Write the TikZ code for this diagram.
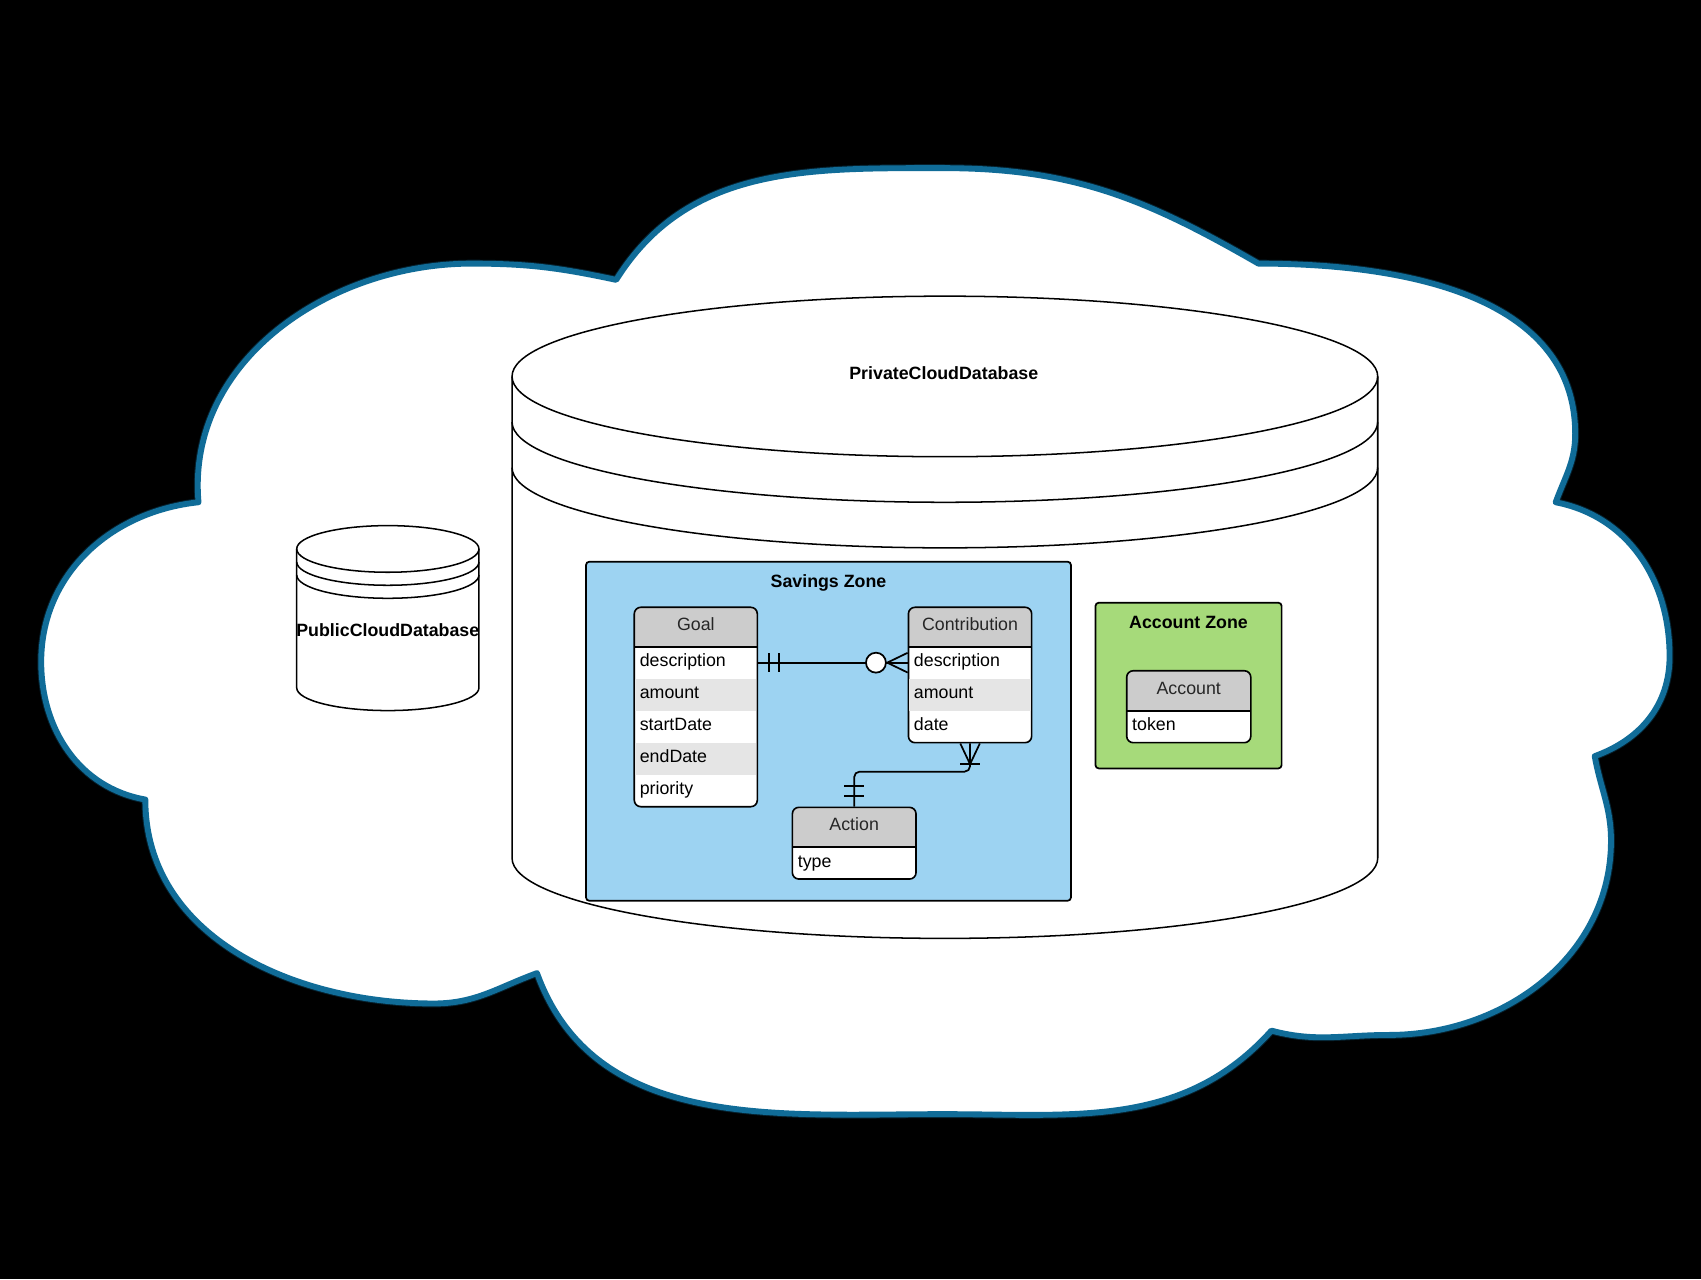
\documentclass[tikz,border=0pt]{standalone}
\usepackage{fontspec}
\setmainfont{Liberation Sans}
\usetikzlibrary{calc}
\definecolor{cloudblue}{RGB}{16,108,152}
\definecolor{savblue}{RGB}{157,211,242}
\definecolor{accgreen}{RGB}{166,218,122}
\definecolor{hdrgray}{RGB}{204,204,204}
\definecolor{rowgray}{RGB}{229,229,229}
\tikzset{
  lbl/.style={font=\fontsize{8.2pt}{9.8pt}\selectfont, inner sep=0pt},
  boldlbl/.style={font=\fontsize{8.2pt}{9.8pt}\selectfont\bfseries, inner sep=0pt, anchor=base},
  htext/.style={lbl, anchor=base, text=black!85},
  rtext/.style={lbl, anchor=base west},
  cyl/.style={line width=0.7pt, draw=black},
  zone/.style={draw=black, line width=0.8pt, rounded corners=1.5pt, inner sep=0pt},
  ent/.style={draw=black, line width=0.75pt, rounded corners=3pt, inner sep=0pt},
  hsep/.style={line width=1pt},
  conn/.style={line width=0.8pt, draw=black},
  cloudpath/.style={line join=round},
}
\newcommand\entity[7]{%
  \begin{scope}
    \clip[rounded corners=3pt] (#2,#4) rectangle (#3,#6);
    \fill[white] (#2,#4) rectangle (#3,#6);
    \fill[hdrgray] (#2,#4) rectangle (#3,#5);
  \end{scope}
  \draw[hsep] (#2,#5) -- (#3,#5);
  \node[ent, minimum width={(#3-#2)*0.5pt}, minimum height={(#6-#4)*0.5pt}] (#1) at ({(#2+#3)/2},{(#4+#6)/2}) {};
  \node[htext] (#1-title) at ({(#2+#3)/2},{(#5+#4)/2+3.6}) {#7};
}
\newcommand\erow[6]{%
  \coordinate (#1) at ({(#2+#3)/2},{(#4+#5)/2});
  \node[rtext] (#1-t) at ({#2+4.7},{(#4+#5)/2+3.8}) {#6};
}
\newcommand\cloudshape{%
  (183,463) to[out=95,in=180] (435,243)
  to[out=0,in=168] (568,258)
  to[out=58,in=180] (870,155)
  to[out=0,in=150] (1160,243)
  to[out=0,in=90] (1452,400)
  to[out=-90,in=70] (1434,463)
  to[out=-11,in=90] (1539,605)
  to[out=-90,in=20] (1470,697)
  to[out=-80,in=90] (1485,775)
  to[out=-90,in=0] (1280,954)
  to[out=180,in=-15] (1172,950)
  to[out=-132,in=0] (870,1027)
  to[out=180,in=-70] (495,897)
  to[out=-160,in=0] (400,925)
  to[out=180,in=-90] (134,737)
  to[out=170,in=-90] (38,610)
  to[out=90,in=-174] (183,463) -- cycle}
\begin{document}
\begin{tikzpicture}[x=0.5pt,y=-0.5pt]
\useasboundingbox (0,0) rectangle (1568,1179);
\fill[black] (0,0) rectangle (1568,1179);

% cloud (soft glow, then border)
\draw[cloudpath, draw=cloudblue!60!black, line width=3.6pt, opacity=0.5] \cloudshape;
\path[cloudpath, fill=white, draw=cloudblue, line width=2.7pt] \cloudshape;

% public cylinder
\filldraw[cyl, fill=white] (273.5,506) -- (273.5,634)
  arc[start angle=180,end angle=0,x radius=84,y radius=21] -- (441.5,506)
  arc[start angle=0,end angle=-180,x radius=84,y radius=21.5] -- cycle;
\draw[cyl] (273.5,506) arc[start angle=180,end angle=0,x radius=84,y radius=21.5];
\draw[cyl] (273.5,518) arc[start angle=180,end angle=0,x radius=84,y radius=21.5];
\draw[cyl] (273.5,530) arc[start angle=180,end angle=0,x radius=84,y radius=21.5];
\node[boldlbl] (public) at (357.5,586.9) {PublicCloudDatabase};

% private cylinder
\filldraw[cyl, fill=white] (472,347) -- (472,791)
  arc[start angle=180,end angle=0,x radius=399,y radius=74] -- (1270,347)
  arc[start angle=0,end angle=-180,x radius=399,y radius=74] -- cycle;
\draw[cyl] (472,347) arc[start angle=180,end angle=0,x radius=399,y radius=74];
\draw[cyl] (472,389) arc[start angle=180,end angle=0,x radius=399,y radius=74];
\draw[cyl] (472,431) arc[start angle=180,end angle=0,x radius=399,y radius=74];
\node[boldlbl] (private) at (870,349.7) {PrivateCloudDatabase};

% zones
\node[zone, fill=savblue, minimum width=447*0.5pt, minimum height=312.5*0.5pt] (savings) at (763.7,674.05) {};
\node[boldlbl] (savings-label) at (763.7,541.4) {Savings Zone};
\node[zone, fill=accgreen, minimum width=171.6*0.5pt, minimum height=152.7*0.5pt] (accountzone) at (1095.6,631.95) {};
\node[boldlbl] (accountzone-label) at (1095.6,579.2) {Account Zone};

% Goal
\entity{goal}{584.7}{698.1}{559.8}{596.1}{743.6}{Goal}
\fill[rowgray] (585.5,625.6) rectangle (697.3,655.1);
\fill[rowgray] (585.5,684.6) rectangle (697.3,714.1);
\erow{goal-r1}{584.7}{698.1}{596.1}{625.6}{description}
\erow{goal-r2}{584.7}{698.1}{625.6}{655.1}{amount}
\erow{goal-r3}{584.7}{698.1}{655.1}{684.6}{startDate}
\erow{goal-r4}{584.7}{698.1}{684.6}{714.1}{endDate}
\erow{goal-r5}{584.7}{698.1}{714.1}{743.6}{priority}

% Contribution
\entity{contrib}{837.4}{951}{559.8}{596.1}{684.6}{Contribution}
\fill[rowgray] (838.2,625.6) rectangle (950.2,655.1);
\erow{contrib-r1}{837.4}{951}{596.1}{625.6}{description}
\erow{contrib-r2}{837.4}{951}{625.6}{655.1}{amount}
\erow{contrib-r3}{837.4}{951}{655.1}{684.6}{date}

% Action
\entity{action}{730.4}{844.4}{744.2}{780.5}{810.3}{Action}
\erow{action-r1}{730.4}{844.4}{780.5}{810.3}{type}

% Account
\entity{account}{1038.6}{1153}{618.3}{655.1}{684.6}{Account}
\erow{account-r1}{1038.6}{1153}{655.1}{684.6}{token}

% Goal -- Contribution
\draw[conn] (goal.east |- goal-r1) -- (contrib.west |- goal-r1);
\draw[conn] ($(goal.east |- goal-r1)+(10.2,-8.9)$) -- ++(0,17.8);
\draw[conn] ($(goal.east |- goal-r1)+(19.4,-8.9)$) -- ++(0,17.8);
\draw[conn] ($(contrib.west |- goal-r1)+(0,-9.1)$) -- ($(contrib.west |- goal-r1)+(-18.8,0)$) -- ($(contrib.west |- goal-r1)+(0,9.1)$);
\draw[conn, fill=white] ($(contrib.west |- goal-r1)+(-29.2,0)$) circle[radius=4.6pt];

% Contribution -- Action
\coordinate (bend) at (840,711.3);
\draw[conn, rounded corners=2.5pt] (contrib.south) |- (bend) -| (action.north);
\draw[conn] ($(contrib.south)+(-9,0)$) -- ($(contrib.south)+(0,19)$) -- ($(contrib.south)+(9,0)$);
\draw[conn] ($(contrib.south)+(-9,19)$) -- ++(18,0);
\draw[conn] ($(action.north)+(-9.3,-19)$) -- ++(18.6,0);
\draw[conn] ($(action.north)+(-9.3,-9.8)$) -- ++(18.6,0);
\end{tikzpicture}
\end{document}
